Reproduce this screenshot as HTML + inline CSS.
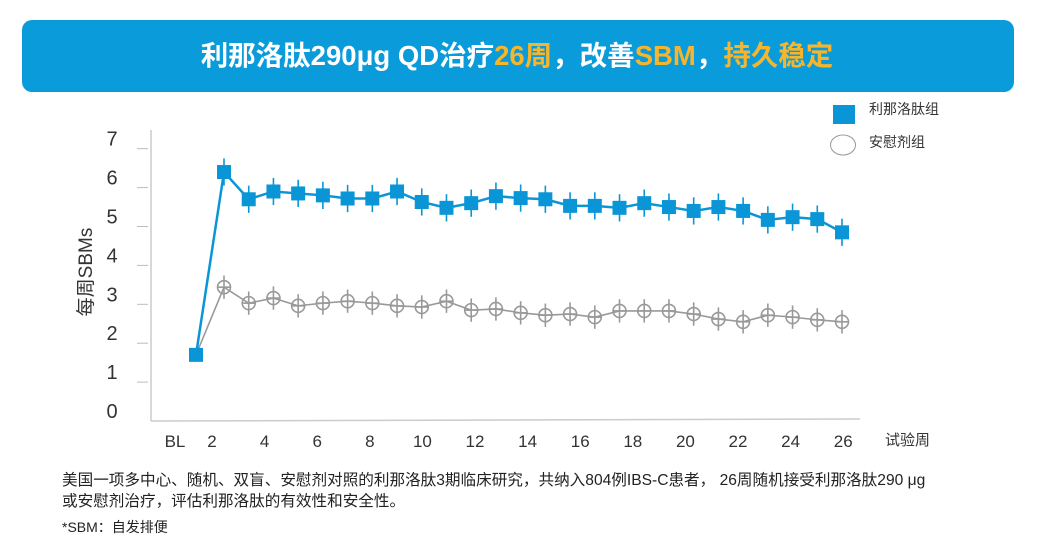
<!DOCTYPE html>
<html><head><meta charset="utf-8"><style>
body{margin:0;width:1042px;height:541px;background:#fff;overflow:hidden;font-family:"Liberation Sans","Noto Sans CJK SC",sans-serif;}
</style></head><body>
<svg width="1042" height="541" xmlns="http://www.w3.org/2000/svg" font-family="Liberation Sans, Noto Sans CJK SC, sans-serif">
<rect x="22" y="20" width="992" height="72" rx="10" fill="#0a9bdb"/>
<text x="517" y="65" text-anchor="middle" font-size="27.5" font-weight="bold" fill="#fff">利那洛肽290μg QD治疗<tspan fill="#f7b52c">26周</tspan>，改善<tspan fill="#f7b52c">SBM</tspan>，<tspan fill="#f7b52c">持久稳定</tspan></text>
<rect x="833" y="105" width="22" height="19" fill="#0a96d6"/>
<text x="869" y="114" font-size="14" fill="#333">利那洛肽组</text>
<ellipse cx="843" cy="145" rx="12.5" ry="10" fill="none" stroke="#999"/>
<text x="869" y="147" font-size="14" fill="#333">安慰剂组</text>
<text transform="translate(92,272) rotate(-90)" text-anchor="middle" font-size="19" fill="#333">每周SBMs</text>
<text x="885" y="445" font-size="15" fill="#333">试验周</text>
<g id="axes"></g><g id="series"></g>
<text x="62" y="485" font-size="15.6" fill="#222">美国一项多中心、随机、双盲、安慰剂对照的利那洛肽3期临床研究，共纳入804例IBS-C患者， 26周随机接受利那洛肽290 μg</text>
<text x="62" y="506" font-size="15.6" fill="#222">或安慰剂治疗，评估利那洛肽的有效性和安全性。</text>
<text x="62" y="532" font-size="14" fill="#222">*SBM：自发排便</text>
</svg>
<script>
const yTicks=[0,1,2,3,4,5,6,7];
const xLabels=["BL","2","4","6","8","10","12","14","16","18","20","22","24","26"];
const weeks=[0,1,2,3,4,5,6,7,8,9,10,11,12,13,14,15,16,17,18,19,20,21,22,23,24,25,26];
const linaclotide=[1.7,6.4,5.7,5.9,5.85,5.8,5.72,5.72,5.9,5.63,5.48,5.6,5.78,5.73,5.7,5.53,5.53,5.48,5.6,5.5,5.4,5.5,5.4,5.17,5.24,5.19,4.85];
const linErr=[0,0.35,0.35,0.35,0.35,0.35,0.35,0.35,0.35,0.35,0.35,0.35,0.35,0.35,0.35,0.35,0.35,0.35,0.35,0.35,0.35,0.35,0.35,0.35,0.35,0.35,0.35];
const placebo=[1.7,3.44,3.03,3.16,2.96,3.03,3.08,3.03,2.96,2.93,3.08,2.85,2.88,2.78,2.72,2.75,2.67,2.83,2.83,2.83,2.75,2.62,2.55,2.72,2.67,2.6,2.55];
const plaErr=[0,0.3,0.3,0.3,0.3,0.3,0.3,0.3,0.3,0.3,0.3,0.3,0.3,0.3,0.3,0.3,0.3,0.3,0.3,0.3,0.3,0.3,0.3,0.3,0.3,0.3,0.3];
const NS="http://www.w3.org/2000/svg";
function y(v){return 421-38.9*v;}
function x(w){return w===0?196:224+(w-1)*24.72;}
function labelX(i){return i===0?175:212+(i-1)*52.6;}
function mk(t,a,p){const e=document.createElementNS(NS,t);for(const k in a)e.setAttribute(k,a[k]);p.appendChild(e);return e;}
const ax=document.getElementById('axes'),sr=document.getElementById('series');
let l=mk('line',{x1:151,y1:130,x2:151,y2:421,stroke:'#ccc','stroke-width':1.5},ax);


l=mk('line',{x1:151,y1:421,x2:860,y2:419,stroke:'#ccc','stroke-width':1.5},ax);


yTicks.forEach(v=>{
 if(v>0){const t=mk('line',{x1:137,y1:y(v),x2:148,y2:y(v),stroke:'#bbb'},ax);
 
 }
 const tx=mk('text',{x:112,y:y(v)-3,'text-anchor':'middle','font-size':20,fill:'#333'},ax);tx.textContent=v;
 
 
});
xLabels.forEach((s,i)=>{const tx=mk('text',{x:labelX(i),y:447,'text-anchor':'middle','font-size':17,fill:'#333'},ax);tx.textContent=s;
 
 });
let pl=mk('polyline',{points:weeks.map((w,i)=>x(w)+','+y(placebo[i])).join(' '),fill:'none',stroke:'#999','stroke-width':1.6},sr);


weeks.forEach((w,i)=>{if(i===0)return;const g=mk('g',{},sr);
 
 
 const cx=x(w),cy=y(placebo[i]);
 mk('line',{x1:cx,x2:cx,y1:y(placebo[i]+plaErr[i]),y2:y(placebo[i]-plaErr[i]),stroke:'#999','stroke-width':1.6},g);
 mk('line',{x1:cx-7,x2:cx+7,y1:cy,y2:cy,stroke:'#999','stroke-width':1.6},g);
 mk('circle',{cx:cx,cy:cy,r:6.5,fill:'none',stroke:'#999','stroke-width':1.6},g);});
pl=mk('polyline',{points:weeks.map((w,i)=>x(w)+','+y(linaclotide[i])).join(' '),fill:'none',stroke:'#0a96d6','stroke-width':2.5},sr);


weeks.forEach((w,i)=>{const g=mk('g',{},sr);
 
 
 const cx=x(w),cy=y(linaclotide[i]);
 if(linErr[i]>0)mk('line',{x1:cx,x2:cx,y1:y(linaclotide[i]+linErr[i]),y2:y(linaclotide[i]-linErr[i]),stroke:'#0a96d6','stroke-width':1.6},g);
 mk('rect',{x:cx-7,y:cy-7,width:14,height:14,fill:'#0a96d6'},g);});
</script>
</body></html>
